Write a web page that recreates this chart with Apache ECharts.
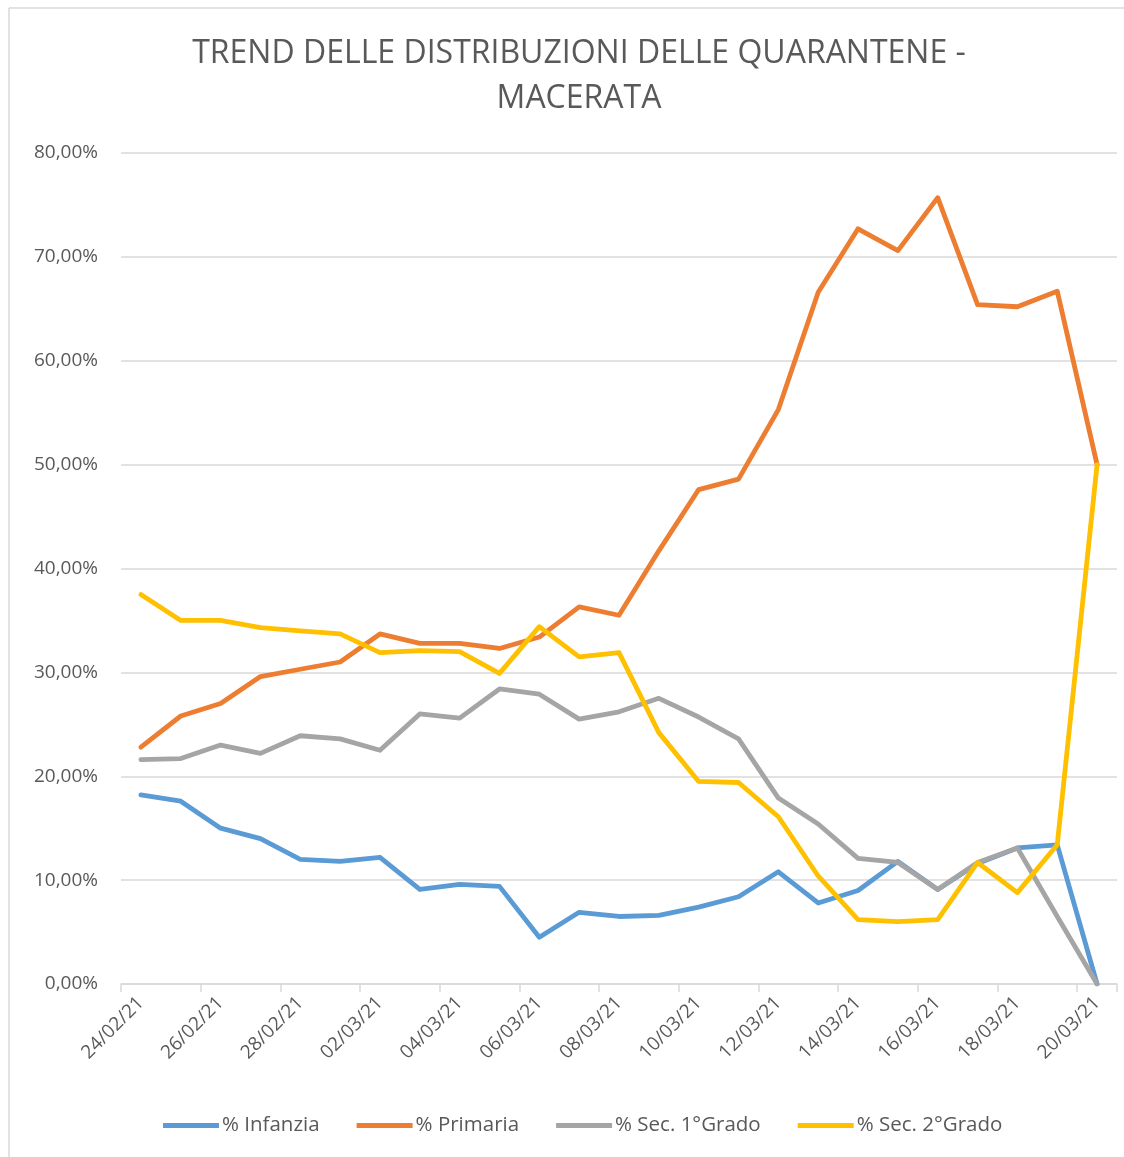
<!DOCTYPE html>
<html lang="it">
<head>
    <meta charset="UTF-8">
    <title>Trend delle distribuzioni delle quarantene - Macerata</title>
    <script src="https://cdn.jsdelivr.net/npm/echarts@6/dist/echarts.min.js"></script>
    <style>
        html, body { margin: 0; padding: 0; background: #fff; }
        #chartmain { width: 1124px; height: 1157px; }
    </style>
</head>
<body>
<div id="chartmain"></div>
<script>
    // date (una al giorno, 24/02/21 - 20/03/21)
    var dates = ['24/02/21', '25/02/21', '26/02/21', '27/02/21', '28/02/21',
        '01/03/21', '02/03/21', '03/03/21', '04/03/21', '05/03/21', '06/03/21',
        '07/03/21', '08/03/21', '09/03/21', '10/03/21', '11/03/21', '12/03/21',
        '13/03/21', '14/03/21', '15/03/21', '16/03/21', '17/03/21', '18/03/21',
        '19/03/21', '20/03/21'];

    // percentuali
    var infanzia = [18.2, 17.6, 15.0, 14.0, 12.0, 11.8, 12.2, 9.1, 9.6, 9.4, 4.5,
        6.9, 6.5, 6.6, 7.4, 8.4, 10.8, 7.8, 9.0, 11.8, 9.1, 11.6, 13.1, 13.4, 0];
    var primaria = [22.8, 25.8, 27.0, 29.6, 30.3, 31.0, 33.7, 32.8, 32.8, 32.3, 33.4,
        36.3, 35.5, 41.7, 47.6, 48.6, 55.3, 66.6, 72.7, 70.6, 75.7, 65.4, 65.2, 66.7, 50.0];
    var sec1 = [21.6, 21.7, 23.0, 22.2, 23.9, 23.6, 22.5, 26.0, 25.6, 28.4, 27.9,
        25.5, 26.2, 27.5, 25.7, 23.6, 17.9, 15.4, 12.1, 11.7, 9.1, 11.7, 13.1, 6.5, 0];
    var sec2 = [37.5, 35.0, 35.0, 34.3, 34.0, 33.7, 31.9, 32.1, 32.0, 29.9, 34.4,
        31.5, 31.9, 24.2, 19.5, 19.4, 16.1, 10.4, 6.2, 6.0, 6.2, 11.7, 8.8, 13.4, 50.0];

    var seriesNames = ['% Infanzia', '% Primaria', '% Sec. 1°Grado', '% Sec. 2°Grado'];
    var seriesColors = ['#5B9BD5', '#ED7D31', '#A5A5A5', '#FFC000'];
    var seriesData = [infanzia, primaria, sec1, sec2];

    var font = '"Open Sans", "Noto Sans", sans-serif';

    var series = seriesNames.map(function (name, i) {
        return {
            name: name,
            type: 'line',
            data: seriesData[i],
            symbol: 'none',
            color: seriesColors[i],
            lineStyle: { width: 4.8, color: seriesColors[i], cap: 'round', join: 'round' },
            emphasis: { disabled: true }
        };
    });

    var myChart = echarts.init(document.getElementById('chartmain'));
    myChart.setOption({
        animation: false,
        backgroundColor: '#fff',
        title: {
            text: 'TREND DELLE DISTRIBUZIONI DELLE QUARANTENE -\nMACERATA',
            left: 574,
            top: 26,
            textAlign: 'center',
            textStyle: {
                fontFamily: font,
                fontSize: 32,
                fontWeight: 'normal',
                color: '#595959',
                lineHeight: 45
            }
        },
        graphic: [
            { type: 'line', shape: { x1: 9, y1: 8, x2: 1124, y2: 8 }, style: { stroke: '#d9d9d9', lineWidth: 1.5 } },
            { type: 'line', shape: { x1: 9, y1: 8, x2: 9, y2: 1157 }, style: { stroke: '#d9d9d9', lineWidth: 1.5 } }
        ],
        legend: {
            data: seriesNames,
            bottom: 16,
            left: 158,
            icon: 'rect',
            itemWidth: 56,
            itemHeight: 5,
            itemGap: 37,
            textStyle: { fontFamily: font, fontSize: 20.5, color: '#595959', padding: [0, 0, 0, -2] }
        },
        grid: { left: 121, right: 7, top: 153, bottom: 173, containLabel: false },
        xAxis: {
            type: 'category',
            data: dates,
            boundaryGap: true,
            axisLine: { lineStyle: { color: '#d9d9d9', width: 1.5 } },
            axisTick: { show: true, interval: 1, length: 8, lineStyle: { color: '#d9d9d9', width: 1.5 } },
            axisLabel: {
                interval: 1,
                rotate: 45,
                margin: 16,
                fontFamily: font,
                fontSize: 19,
                color: '#595959'
            }
        },
        yAxis: {
            type: 'value',
            min: 0,
            max: 80,
            interval: 10,
            axisLine: { show: false },
            axisTick: { show: false },
            splitLine: { lineStyle: { color: '#d9d9d9', width: 1.5 } },
            axisLabel: {
                margin: 23,
                fontFamily: font,
                fontSize: 19,
                color: '#595959',
                formatter: function (v) { return v.toFixed(2).replace('.', ',') + '%'; }
            }
        },
        series: series
    });
</script>
</body>
</html>
